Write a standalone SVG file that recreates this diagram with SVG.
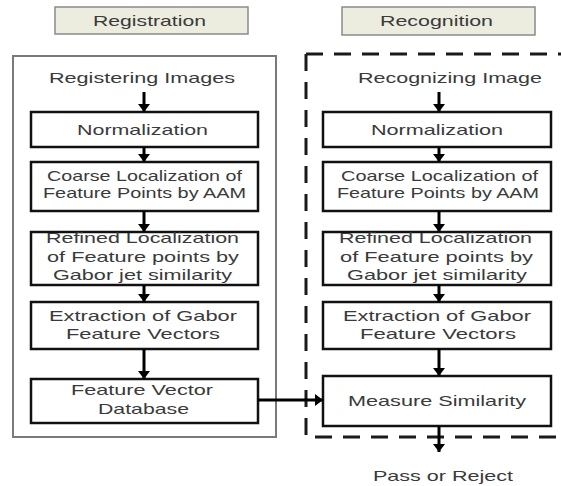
<svg xmlns="http://www.w3.org/2000/svg" width="561" height="486" viewBox="0 0 561 486">
<style>
.hdr{fill:#ececdf;stroke:#8a8a8a;stroke-width:1.5}
.outer{fill:none;stroke:#7a7a7a;stroke-width:2}
.dash{fill:none;stroke:#1a1a1a;stroke-width:3;stroke-dasharray:17 11}
.box{fill:#fff;stroke:#111;stroke-width:2.5}
.t{font-family:"Liberation Sans",Arial,sans-serif;font-size:14.5px;fill:#3a3a3a;text-anchor:start}
.ln{stroke:#000;stroke-width:3;fill:none}
</style>
<defs>
<marker id="ah" viewBox="0 0 8 12" markerWidth="8" markerHeight="12" refX="8" refY="6" orient="auto" markerUnits="userSpaceOnUse">
<path d="M0,0 L8,6 L0,12 z" fill="#000"/>
</marker>
</defs>
<rect width="561" height="486" fill="#fff"/>

<g id="hdr-registration"><rect class="hdr" x="55" y="7" width="193" height="27"/><text class="t" x="93" y="26" textLength="113" lengthAdjust="spacingAndGlyphs">Registration</text></g>
<g id="hdr-recognition"><rect class="hdr" x="342" y="7" width="193" height="28"/><text class="t" x="380" y="26" textLength="113" lengthAdjust="spacingAndGlyphs">Recognition</text></g>

<g id="registration-frame"><rect class="outer" x="13" y="56" width="263" height="381"/></g>
<g id="recognition-frame"><path class="dash" d="M306,54 H561"/><path class="dash" d="M306,54 V437 H561"/></g>

<g id="registering-images"><text class="t" x="49" y="83" textLength="186" lengthAdjust="spacingAndGlyphs">Registering Images</text></g>
<g id="l-norm"><rect class="box" x="31" y="112" width="227" height="35"/><text class="t" x="77" y="135" textLength="131" lengthAdjust="spacingAndGlyphs">Normalization</text></g>
<g id="l-coarse"><rect class="box" x="31" y="162" width="227" height="49"/><text class="t" x="47" y="181" textLength="195" lengthAdjust="spacingAndGlyphs">Coarse Localization of</text><text class="t" x="43" y="198" textLength="203" lengthAdjust="spacingAndGlyphs">Feature Points by AAM</text></g>
<g id="l-refined"><rect class="box" x="31" y="232" width="227" height="53"/><text class="t" x="46" y="243" textLength="193" lengthAdjust="spacingAndGlyphs">Refined Localization</text><text class="t" x="47" y="262" textLength="192" lengthAdjust="spacingAndGlyphs">of Feature points by</text><text class="t" x="53" y="280" textLength="179" lengthAdjust="spacingAndGlyphs">Gabor jet similarity</text></g>
<g id="l-extract"><rect class="box" x="31" y="302" width="227" height="47"/><text class="t" x="49" y="321" textLength="188" lengthAdjust="spacingAndGlyphs">Extraction of Gabor</text><text class="t" x="66" y="339" textLength="154" lengthAdjust="spacingAndGlyphs">Feature Vectors</text></g>
<g id="l-db"><rect class="box" x="31" y="379" width="227" height="44"/><text class="t" x="71" y="395" textLength="142" lengthAdjust="spacingAndGlyphs">Feature Vector</text><text class="t" x="98" y="414" textLength="91" lengthAdjust="spacingAndGlyphs">Database</text></g>

<g id="recognizing-image"><text class="t" x="358" y="83" textLength="184" lengthAdjust="spacingAndGlyphs">Recognizing Image</text></g>
<g id="r-norm"><rect class="box" x="323" y="112" width="228" height="35"/><text class="t" x="371" y="135" textLength="132" lengthAdjust="spacingAndGlyphs">Normalization</text></g>
<g id="r-coarse"><rect class="box" x="323" y="162" width="228" height="49"/><text class="t" x="341" y="181" textLength="197" lengthAdjust="spacingAndGlyphs">Coarse Localization of</text><text class="t" x="337" y="198" textLength="202" lengthAdjust="spacingAndGlyphs">Feature Points by AAM</text></g>
<g id="r-refined"><rect class="box" x="323" y="232" width="228" height="53"/><text class="t" x="339" y="243" textLength="193" lengthAdjust="spacingAndGlyphs">Refined Localization</text><text class="t" x="340" y="262" textLength="193" lengthAdjust="spacingAndGlyphs">of Feature points by</text><text class="t" x="347" y="280" textLength="180" lengthAdjust="spacingAndGlyphs">Gabor jet similarity</text></g>
<g id="r-extract"><rect class="box" x="323" y="302" width="228" height="47"/><text class="t" x="343" y="321" textLength="188" lengthAdjust="spacingAndGlyphs">Extraction of Gabor</text><text class="t" x="360" y="339" textLength="156" lengthAdjust="spacingAndGlyphs">Feature Vectors</text></g>
<g id="r-measure"><rect class="box" x="323" y="376" width="228" height="50"/><text class="t" x="348" y="406" textLength="178" lengthAdjust="spacingAndGlyphs">Measure Similarity</text></g>
<g id="pass-reject"><text class="t" x="373" y="481" textLength="140" lengthAdjust="spacingAndGlyphs">Pass or Reject</text></g>

<g id="connectors">
<line class="ln" x1="144" y1="92" x2="144" y2="112" marker-end="url(#ah)"/>
<line class="ln" x1="144" y1="147" x2="144" y2="162" marker-end="url(#ah)"/>
<line class="ln" x1="144" y1="211" x2="144" y2="232" marker-end="url(#ah)"/>
<line class="ln" x1="144" y1="285" x2="144" y2="302" marker-end="url(#ah)"/>
<line class="ln" x1="144" y1="349" x2="144" y2="379" marker-end="url(#ah)"/>
<line class="ln" x1="439" y1="92" x2="439" y2="112" marker-end="url(#ah)"/>
<line class="ln" x1="439" y1="147" x2="439" y2="162" marker-end="url(#ah)"/>
<line class="ln" x1="439" y1="211" x2="439" y2="232" marker-end="url(#ah)"/>
<line class="ln" x1="439" y1="285" x2="439" y2="302" marker-end="url(#ah)"/>
<line class="ln" x1="439" y1="349" x2="439" y2="376" marker-end="url(#ah)"/>
<line class="ln" x1="439" y1="426" x2="439" y2="452" marker-end="url(#ah)"/>
<line class="ln" x1="258" y1="400" x2="323" y2="400" marker-end="url(#ah)"/>
</g>
</svg>
